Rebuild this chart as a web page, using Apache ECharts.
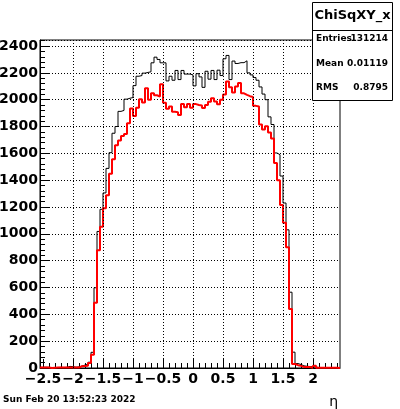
<!DOCTYPE html>
<html><head><meta charset="utf-8">
<script src="https://cdn.jsdelivr.net/npm/echarts@6/dist/echarts.min.js"></script>
<style>html,body{margin:0;padding:0;background:#fff}#c{width:400px;height:409px}</style>
</head><body><div id="c"></div>
<script>
// ---- data ----
const xMin = -2.55, xMax = 2.45, binWidth = 0.05;
const yMax = 2445;
const blackCounts = [5,6,5,0,3,4,5,4,5,12, 10,6,8,15,22,28,43,117,598,1018,
  1183,1305,1488,1605,1750,1800,1913,1920,2004,2011, 2016,2105,2175,2180,2198,2203,2208,2275,2317,2300,
  2275,2275,2140,2175,2145,2218,2150,2218,2191,2191, 2185,2103,2194,2170,2092,2212,2153,2218,2150,2220,
  2180,2305,2330,2150,2288,2270,2276,2276,2290,2200, 2185,2165,2145,2095,2042,2000,1872,1815,1603,1590,
  1431,1230,1030,565,118,33,26,16,13,11, 8,8,3,3,3,3,3,3,3,2];
const redCounts = [3,3,3,0,2,3,3,3,3,4, 4,3,3,13,14,16,38,98,487,877,
  1053,1190,1288,1448,1556,1660,1695,1730,1745,1824, 1935,1879,1940,2004,1979,2086,1999,2048,2033,2024,
  2116,1977,1932,1950,1910,1907,1885,1967,1943,1967, 1940,1967,1960,1956,1938,1960,1985,2011,1986,1966,
  2000,2038,2135,2093,2054,2098,2125,2048,2036,2026, 2020,1954,1949,1815,1777,1802,1755,1711,1528,1400,
  1215,1082,900,440,30,21,16,8,8,8, 1,16,1,1,1,1,1,1,1,0];
const xMajorTicks = [-2.5,-2,-1.5,-1,-0.5,0,0.5,1,1.5,2];
const xGridLines = [-2,-1.5,-1,-0.5,0,0.5,1,1.5,2];
const statsTitle = 'ChiSqXY_x';
const statsNames = ['Entries','Mean','RMS'];
const statsValues = ['131214','0.01119','0.8795'];
const dateText = 'Sun Feb 20 13:52:23 2022';
const xTitle = 'η';

// ---- helpers ----
function stepData(counts){
  const pts = [];
  for (let i = 0; i < counts.length; i++) pts.push([+(xMin + i*binWidth).toFixed(4), counts[i]]);
  pts.push([xMax, counts[counts.length-1]]);
  return pts;
}
const xMinorTicks = [];
for (let k = -25; k <= 24; k++) xMinorTicks.push(+(k/10).toFixed(2));
const yMinorTicks = [];
for (let k = 0; k <= 61; k++) yMinorTicks.push(k*40);

const FONT = 'DejaVu Sans';
const chart = echarts.init(document.getElementById('c'), null, {renderer:'canvas'});
const boxX = 312.5, boxY = 2.5, boxW = 80, boxH = 98;
const option = {
  animation: false,
  backgroundColor: '#fff',
  grid: {left:40, top:40, width:300, height:328, containLabel:false, outerBoundsMode:'none',
    show:true, borderColor:'#000', borderWidth:1, backgroundColor:'transparent'},
  xAxis: [{
    type:'value', min:xMin, max:xMax, position:'bottom',
    axisLine:{show:true, onZero:false, lineStyle:{color:'#000', width:1}},
    axisTick:{show:true, inside:true, length:9, customValues:xMajorTicks, lineStyle:{color:'#000'}},
    axisLabel:{show:true, customValues:xMajorTicks, margin:4, color:'#000', fontFamily:FONT, fontWeight:'bold', fontSize:14,
      formatter: v => String(v).replace('-', '\u2212')},
    splitLine:{show:false}
  },{
    type:'value', min:xMin, max:xMax, position:'bottom',
    axisLine:{show:false, onZero:false},
    axisTick:{show:true, inside:true, length:5, customValues:xMinorTicks, lineStyle:{color:'#000'}},
    axisLabel:{show:false}, splitLine:{show:false}
  }],
  yAxis: [{
    type:'value', min:0, max:yMax, interval:200, position:'left',
    axisLine:{show:true, onZero:false, lineStyle:{color:'#000', width:1}},
    axisTick:{show:true, inside:true, length:9, lineStyle:{color:'#000'}},
    axisLabel:{show:true, showMaxLabel:false, margin:2, color:'#000', fontFamily:FONT, fontWeight:'bold', fontSize:14,
      formatter: v => String(v)},
    splitLine:{show:true, lineStyle:{color:'#000', width:1, type:[1,2]}}
  },{
    type:'value', min:0, max:yMax, position:'left',
    axisLine:{show:false, onZero:false},
    axisTick:{show:true, inside:true, length:5, customValues:yMinorTicks, lineStyle:{color:'#000'}},
    axisLabel:{show:false}, splitLine:{show:false}
  }],
  series: [{
    type:'line', xAxisIndex:0, yAxisIndex:0, data:[], silent:true,
    markLine:{silent:true, symbol:['none','none'], label:{show:false},
      lineStyle:{color:'#000', width:1, type:[1,2]},
      data: xGridLines.map(v => ({xAxis:v}))}
  },{
    name:'black', type:'line', step:'end', xAxisIndex:0, yAxisIndex:0, showSymbol:false, symbol:'none',
    data: stepData(blackCounts), lineStyle:{color:'#000', width:1}, z:3
  },{
    name:'red', type:'line', step:'end', xAxisIndex:0, yAxisIndex:0, showSymbol:false, symbol:'none',
    data: stepData(redCounts), lineStyle:{color:'#ff0000', width:2}, z:4
  }],
  graphic: [
    {type:'rect', shape:{x:boxX, y:boxY, width:boxW, height:boxH}, style:{fill:'#fff', stroke:'#000', lineWidth:1}, z:100},
    {type:'line', shape:{x1:boxX, y1:30.5, x2:boxX+boxW, y2:30.5}, style:{stroke:'#000', lineWidth:1}, z:101},
    {type:'text', x:352.5, y:16, z:102, style:{text:statsTitle, font:'bold 13px "DejaVu Sans"', fill:'#000', textAlign:'center', textVerticalAlign:'middle'}},
    ...statsNames.map((n,i) => ({type:'text', x:316, y:39+24.3*i, z:102, style:{text:n, font:'bold 9px "DejaVu Sans"', fill:'#000', textAlign:'left', textVerticalAlign:'middle'}})),
    ...statsValues.map((n,i) => ({type:'text', x:388, y:39+24.3*i, z:102, style:{text:n, font:'bold 9px "DejaVu Sans"', fill:'#000', textAlign:'right', textVerticalAlign:'middle'}})),
    {type:'text', x:3, y:400, z:102, style:{text:dateText, font:'bold 9px "DejaVu Sans"', fill:'#000', textAlign:'left', textVerticalAlign:'middle'}},
    {type:'text', x:338, y:402, z:102, style:{text:xTitle, font:'14px "DejaVu Sans"', fill:'#000', textAlign:'right', textVerticalAlign:'middle'}}
  ]
};
chart.setOption(option);
</script>
</body></html>
